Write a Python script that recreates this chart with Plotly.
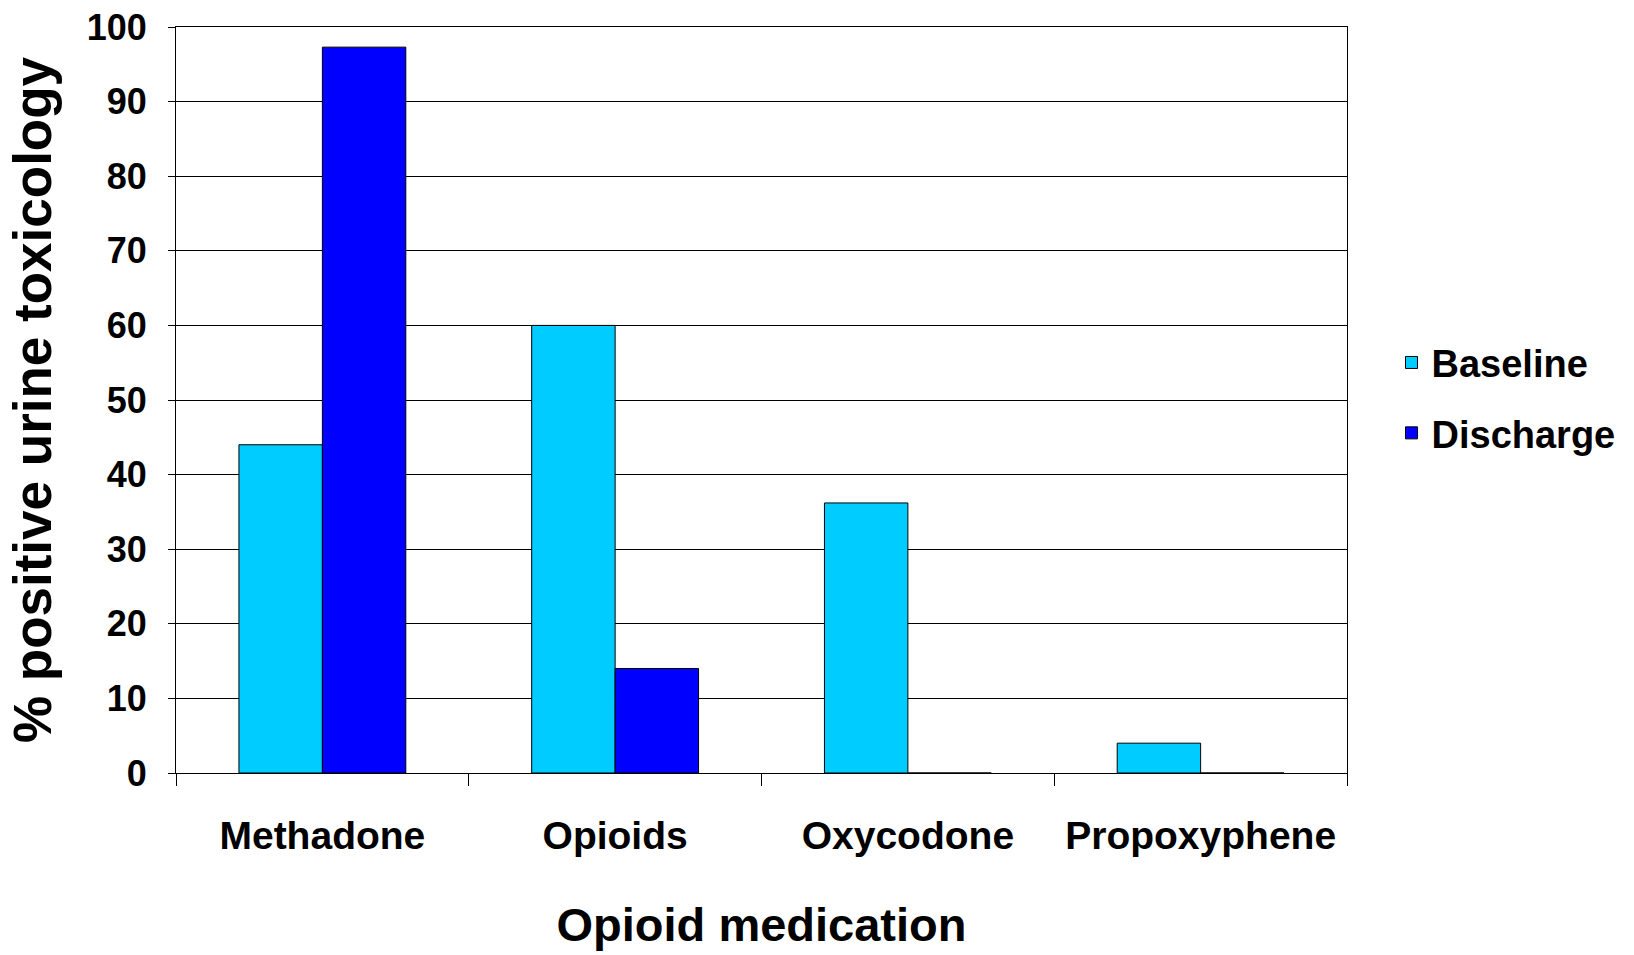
import plotly.graph_objects as go

# Percent of patients with a positive urine toxicology screen
medications = ["Methadone", "Opioids", "Oxycodone", "Propoxyphene"]
baseline = [44, 60, 36.2, 4]
discharge = [97.3, 14, 0, 0]

y_ticks = list(range(0, 101, 10))

FONT = "Liberation Sans, Arial, sans-serif"

fig = go.Figure()
fig.add_trace(go.Bar(
    name="Baseline", x=medications, y=baseline,
    marker=dict(color="#00CCFF", line=dict(color="#000000", width=1)),
    legendgroup="a",
))
fig.add_trace(go.Bar(
    name="Discharge", x=medications, y=discharge,
    marker=dict(color="#0000FF", line=dict(color="#000000", width=1)),
    legendgroup="b",
))

fig.update_layout(
    width=1634, height=955,
    margin=dict(l=176, r=287, t=27, b=182, autoexpand=False),
    paper_bgcolor="white", plot_bgcolor="white",
    barmode="group", bargap=0.43, bargroupgap=0,
    font=dict(family=FONT, color="black", weight=700),
    showlegend=True,
    legend=dict(
        x=1.038, y=0.503, xanchor="left", yanchor="middle",
        font=dict(family=FONT, size=38, color="black", weight=700),
        tracegroupgap=18, bgcolor="rgba(0,0,0,0)",
    ),
    xaxis=dict(
        title=dict(text="Opioid medication", font=dict(size=47, family=FONT, weight=700), standoff=52),
        tickfont=dict(size=39, family=FONT, weight=700),
        showline=True, linecolor="black", linewidth=1, mirror=True,
        ticks="outside", ticklen=12, tickcolor="black", tickwidth=1,
        tickson="boundaries", ticklabelstandoff=28,
        showgrid=False, automargin=False,
    ),
    yaxis=dict(
        title=dict(text="% positive urine toxicology", font=dict(size=53, family=FONT, weight=700), standoff=18),
        tickfont=dict(size=36, family=FONT, weight=700),
        range=[0, 100], tickvals=y_ticks,
        showline=True, linecolor="black", linewidth=1, mirror=True,
        ticks="outside", ticklen=7, tickcolor="black", tickwidth=1,
        ticklabelstandoff=14,
        showgrid=True, gridcolor="black", gridwidth=1,
        zeroline=False, automargin=False,
    ),
)

fig.write_html("out.html")
